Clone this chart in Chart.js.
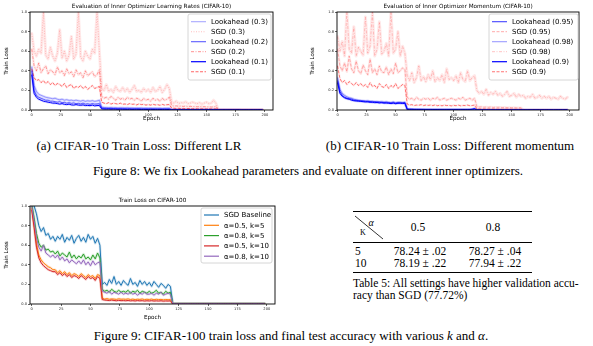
<!DOCTYPE html>
<html>
<head>
<meta charset="utf-8">
<script src="https://cdn.jsdelivr.net/npm/chart.js@4.4.1/dist/chart.umd.min.js"></script>
<style>
body { margin:0; width:593px; height:346px; background:#fff; position:relative; overflow:hidden; font-family:"Liberation Serif", serif; color:#000; }
canvas { position:absolute; }
.t { position:absolute; white-space:nowrap; line-height:1; }
.c { transform:translate(-50%,-50%); }
.l { transform:translateY(-50%); }
.rule { position:absolute; left:353px; width:179px; background:#000; }
</style>
</head>
<body>
<canvas id="c1" width="290" height="126" style="left:0;top:0"></canvas>
<canvas id="c2" width="298" height="126" style="left:295px;top:0"></canvas>
<canvas id="c3" width="290" height="128" style="left:0;top:195px"></canvas>

<div class="t c" style="left:139px;top:145px;font-size:13px">(a) CIFAR-10 Train Loss: Different LR</div>
<div class="t c" style="left:450px;top:145px;font-size:13px">(b) CIFAR-10 Train Loss: Different momentum</div>
<div class="t c" style="left:308px;top:170px;font-size:13px">Figure 8: We fix Lookahead parameters and evaluate on different inner optimizers.</div>

<div class="rule" style="top:211px;height:1.3px"></div>
<div class="rule" style="top:242px;height:0.8px"></div>
<div class="rule" style="top:272px;height:1.3px"></div>
<svg style="position:absolute;left:353px;top:214px" width="32" height="28"><line x1="2" y1="2" x2="30" y2="25" stroke="#000" stroke-width="0.8"/></svg>
<div class="t c" style="left:371px;top:223px;font-size:10px;font-style:italic">α</div>
<div class="t c" style="left:363px;top:233px;font-size:8px">K</div>
<div class="t c" style="left:418px;top:228px;font-size:11.5px">0.5</div>
<div class="t c" style="left:493px;top:228px;font-size:11.5px">0.8</div>
<div class="t l" style="left:355px;top:252px;font-size:11.5px">5</div>
<div class="t l" style="left:355px;top:264px;font-size:11.5px">10</div>
<div class="t c" style="left:420px;top:252px;font-size:11.5px">78.24 ± .02</div>
<div class="t c" style="left:495px;top:252px;font-size:11.5px">78.27 ± .04</div>
<div class="t c" style="left:420px;top:264px;font-size:11.5px">78.19 ± .22</div>
<div class="t c" style="left:495px;top:264px;font-size:11.5px">77.94 ± .22</div>
<div class="t l" style="left:353px;top:284px;font-size:11.5px">Table 5: All settings have higher validation accu-</div>
<div class="t l" style="left:353px;top:296px;font-size:11.5px">racy than SGD (77.72%)</div>

<div class="t c" style="left:291px;top:335px;font-size:13px">Figure 9: CIFAR-100 train loss and final test accuracy with various <i>k</i> and <i>α</i>.</div>

<script>
var epochs = [
0,2,4,6,8,10,12,14,16,18,
20,22,24,26,28,30,32,34,36,38,
40,42,44,46,48,50,52,54,56,58,
60,62,64,66,68,70,72,74,76,78,
80,82,84,86,88,90,92,94,96,98,
100,102,104,106,108,110,112,114,116,118,
120,122,124,126,128,130,132,134,136,138,
140,142,144,146,148,150,152,154,156,158,
160,162,164,166,168,170,172,174,176,178,
180,182,184,186,188,190,192,194,196,198];
var xTicks = [0,25,50,75,100,125,150,175,200];
var yTicks = [0,0.2,0.4,0.6,0.8,1.0];

// (a) different learning rates
var lrLabels = ['Lookahead (0.3)','SGD (0.3)','Lookahead (0.2)','SGD (0.2)','Lookahead (0.1)','SGD (0.1)'];
var lrLook03 = [
0.44,0.25,0.19,0.16,0.15,0.14,0.13,0.125,0.12,0.115,
0.12,0.11,0.105,0.11,0.10,0.105,0.098,0.10,0.095,0.10,
0.095,0.09,0.098,0.088,0.094,0.09,0.096,0.088,0.092,0.10,
0.03,0.026,0.025,0.024,0.025,0.022,0.024,0.021,0.023,0.022,
0.021,0.022,0.02,0.021,0.019,0.02,0.019,0.02,0.018,0.019,
0.018,0.019,0.017,0.018,0.017,0.018,0.016,0.017,0.017,0.018,
0.004,0.004,0.004,0.003,0.004,0.003,0.003,0.003,0.003,0.003,
0.003,0.003,0.003,0.003,0.003,0.003,0.003,0.003,0.003,0.003,
0.002,0.002,0.002,0.002,0.002,0.002,0.002,0.002,0.002,0.002,
0.002,0.002,0.002,0.002,0.002,0.002,0.002,0.002,0.002,0.002];
var lrLook02 = [
0.40,0.20,0.15,0.13,0.12,0.11,0.10,0.10,0.09,0.09,
0.085,0.08,0.085,0.075,0.078,0.07,0.075,0.068,0.072,0.065,
0.068,0.062,0.07,0.06,0.064,0.058,0.066,0.06,0.062,0.065,
0.02,0.017,0.016,0.015,0.016,0.014,0.015,0.013,0.014,0.013,
0.013,0.012,0.013,0.011,0.012,0.011,0.012,0.011,0.01,0.011,
0.01,0.011,0.01,0.01,0.009,0.01,0.009,0.01,0.009,0.01,
0.003,0.003,0.003,0.003,0.003,0.003,0.003,0.003,0.003,0.003,
0.002,0.002,0.002,0.002,0.002,0.002,0.002,0.002,0.002,0.002,
0.002,0.002,0.002,0.002,0.002,0.002,0.002,0.002,0.002,0.002,
0.001,0.001,0.001,0.001,0.001,0.001,0.001,0.001,0.001,0.001];
var lrLook01 = [
0.36,0.17,0.13,0.11,0.10,0.09,0.085,0.08,0.075,0.07,
0.07,0.065,0.06,0.065,0.058,0.055,0.06,0.052,0.05,0.055,
0.05,0.048,0.052,0.045,0.047,0.044,0.05,0.042,0.045,0.046,
0.012,0.010,0.009,0.010,0.008,0.009,0.008,0.007,0.008,0.007,
0.007,0.006,0.007,0.006,0.006,0.007,0.006,0.005,0.006,0.005,
0.005,0.006,0.005,0.005,0.004,0.005,0.005,0.004,0.005,0.005,
0.002,0.002,0.002,0.002,0.002,0.002,0.002,0.002,0.002,0.002,
0.002,0.002,0.002,0.002,0.002,0.002,0.002,0.002,0.002,0.002,
0.001,0.001,0.001,0.001,0.001,0.001,0.001,0.001,0.001,0.001,
0.001,0.001,0.001,0.001,0.001,0.001,0.001,0.001,0.001,0.001];
var lrSgd03 = [
0.78,0.60,0.55,0.62,0.58,1.0,0.56,0.52,0.64,0.55,
0.50,0.58,0.82,0.53,0.60,0.50,0.56,0.75,0.52,0.57,
1.0,0.54,0.50,0.60,0.55,0.52,0.62,0.58,1.0,0.60,
0.22,0.20,0.26,0.19,0.21,0.18,0.24,0.20,0.19,0.23,
0.19,0.22,0.18,0.21,0.25,0.19,0.20,0.18,0.22,0.19,
0.21,0.18,0.23,0.19,0.20,0.24,0.18,0.21,0.26,0.22,
0.08,0.07,0.09,0.065,0.075,0.07,0.085,0.065,0.07,0.08,
0.07,0.065,0.075,0.06,0.07,0.08,0.065,0.07,0.10,0.07,
0.004,0.003,0.003,0.003,0.003,0.003,0.003,0.003,0.003,0.003,
0.003,0.003,0.003,0.003,0.003,0.003,0.003,0.003,0.003,0.003];
var lrSgd02 = [
0.62,0.45,0.40,0.48,0.38,0.42,0.45,0.37,0.41,0.39,
0.36,0.44,0.38,0.40,0.35,0.42,0.37,0.39,0.34,0.41,
0.36,0.38,0.33,0.40,0.35,0.37,0.39,0.34,0.36,0.41,
0.14,0.12,0.13,0.11,0.14,0.12,0.10,0.13,0.11,0.12,
0.10,0.13,0.11,0.12,0.10,0.12,0.11,0.09,0.12,0.10,
0.11,0.09,0.12,0.10,0.11,0.09,0.12,0.10,0.11,0.13,
0.045,0.04,0.042,0.038,0.04,0.036,0.04,0.035,0.038,0.034,
0.036,0.033,0.035,0.032,0.034,0.031,0.033,0.03,0.032,0.034,
0.003,0.003,0.003,0.003,0.003,0.003,0.003,0.003,0.003,0.003,
0.003,0.003,0.003,0.003,0.003,0.003,0.003,0.003,0.003,0.003];
var lrSgd01 = [
0.42,0.33,0.30,0.31,0.28,0.30,0.27,0.29,0.26,0.28,
0.25,0.27,0.26,0.24,0.27,0.23,0.25,0.26,0.22,0.24,
0.23,0.25,0.22,0.24,0.21,0.23,0.25,0.22,0.23,0.24,
0.08,0.07,0.065,0.075,0.06,0.07,0.065,0.06,0.07,0.058,
0.062,0.055,0.065,0.058,0.06,0.052,0.062,0.055,0.058,0.05,
0.056,0.05,0.058,0.052,0.055,0.048,0.057,0.05,0.054,0.056,
0.02,0.018,0.016,0.017,0.015,0.016,0.014,0.015,0.014,0.013,
0.014,0.012,0.013,0.012,0.012,0.011,0.012,0.011,0.012,0.011,
0.002,0.002,0.002,0.002,0.002,0.002,0.002,0.002,0.002,0.002,
0.002,0.002,0.002,0.002,0.002,0.002,0.002,0.002,0.002,0.002];

// (b) different momentum
var momLabels = ['Lookahead (0.95)','SGD (0.95)','Lookahead (0.98)','SGD (0.98)','Lookahead (0.9)','SGD (0.9)'];
var momLook095 = [
0.30,0.19,0.15,0.13,0.12,0.115,0.11,0.10,0.098,0.095,
0.092,0.09,0.088,0.085,0.087,0.08,0.083,0.078,0.08,0.075,
0.077,0.072,0.075,0.07,0.073,0.068,0.074,0.07,0.072,0.074,
0.008,0.007,0.007,0.006,0.006,0.006,0.005,0.006,0.005,0.005,
0.005,0.005,0.004,0.005,0.004,0.004,0.005,0.004,0.004,0.004,
0.004,0.004,0.004,0.004,0.004,0.004,0.004,0.005,0.006,0.01,
0.001,0.001,0.001,0.001,0.001,0.001,0.001,0.001,0.001,0.001,
0.001,0.001,0.001,0.001,0.001,0.001,0.001,0.001,0.001,0.001,
0.001,0.001,0.001,0.001,0.001,0.001,0.001,0.001,0.001,0.001,
0.001,0.001,0.001,0.001,0.001,0.001,0.001,0.001,0.001,0.001];
var momLook098 = [
0.33,0.21,0.17,0.15,0.135,0.125,0.12,0.11,0.105,0.10,
0.098,0.095,0.092,0.094,0.088,0.09,0.085,0.088,0.082,0.086,
0.08,0.084,0.078,0.076,0.082,0.074,0.078,0.08,0.076,0.078,
0.01,0.009,0.008,0.008,0.007,0.007,0.007,0.006,0.006,0.006,
0.006,0.005,0.005,0.005,0.005,0.005,0.005,0.005,0.004,0.004,
0.004,0.004,0.004,0.004,0.004,0.004,0.005,0.006,0.008,0.012,
0.001,0.001,0.001,0.001,0.001,0.001,0.001,0.001,0.001,0.001,
0.001,0.001,0.001,0.001,0.001,0.001,0.001,0.001,0.001,0.001,
0.001,0.001,0.001,0.001,0.001,0.001,0.001,0.001,0.001,0.001,
0.001,0.001,0.001,0.001,0.001,0.001,0.001,0.001,0.001,0.001];
var momLook09 = [
0.28,0.17,0.14,0.125,0.115,0.11,0.10,0.095,0.092,0.09,
0.088,0.085,0.082,0.084,0.078,0.08,0.075,0.077,0.072,0.075,
0.07,0.073,0.068,0.066,0.071,0.064,0.068,0.07,0.066,0.068,
0.007,0.006,0.006,0.005,0.005,0.005,0.005,0.005,0.004,0.004,
0.004,0.004,0.004,0.004,0.004,0.004,0.004,0.004,0.004,0.004,
0.004,0.004,0.004,0.004,0.004,0.004,0.004,0.005,0.007,0.012,
0.001,0.001,0.001,0.001,0.001,0.001,0.001,0.001,0.001,0.001,
0.001,0.001,0.001,0.001,0.001,0.001,0.001,0.001,0.001,0.001,
0.001,0.001,0.001,0.001,0.001,0.001,0.001,0.001,0.001,0.001,
0.001,0.001,0.001,0.001,0.001,0.001,0.001,0.001,0.001,0.001];
var momSgd095 = [
0.62,0.45,0.40,0.48,0.39,0.55,0.42,0.38,0.50,0.40,
0.37,0.46,0.40,0.36,0.52,0.38,0.42,0.36,0.45,0.39,
0.38,0.44,0.36,0.42,0.37,0.48,0.38,0.40,0.43,0.41,
0.13,0.11,0.12,0.10,0.13,0.11,0.10,0.12,0.11,0.12,
0.10,0.12,0.11,0.13,0.10,0.11,0.12,0.10,0.11,0.12,
0.11,0.10,0.12,0.11,0.13,0.10,0.11,0.12,0.10,0.12,
0.035,0.03,0.032,0.028,0.03,0.027,0.031,0.026,0.029,0.027,
0.028,0.025,0.027,0.024,0.026,0.023,0.025,0.022,0.024,0.023,
0.003,0.003,0.003,0.003,0.003,0.003,0.003,0.003,0.003,0.003,
0.003,0.003,0.003,0.003,0.003,0.003,0.003,0.003,0.003,0.003];
var momSgd098 = [
0.75,0.60,0.70,0.55,1.0,0.62,0.58,0.85,0.55,0.64,
0.60,0.56,0.95,0.58,0.65,1.0,0.55,0.62,0.90,0.57,
0.60,0.68,0.55,1.0,0.58,0.62,0.80,0.55,0.65,0.58,
0.35,0.30,0.38,0.28,0.33,0.45,0.30,0.34,0.29,0.36,
0.31,0.40,0.29,0.33,0.30,0.36,0.28,0.42,0.31,0.33,
0.30,0.35,0.28,0.38,0.31,0.29,0.40,0.30,0.33,0.35,
0.20,0.17,0.19,0.16,0.21,0.15,0.18,0.16,0.19,0.15,
0.17,0.14,0.16,0.19,0.14,0.15,0.17,0.13,0.16,0.14,
0.15,0.12,0.14,0.13,0.16,0.12,0.13,0.15,0.12,0.14,
0.12,0.14,0.11,0.13,0.12,0.11,0.14,0.12,0.11,0.13];
var momSgd09 = [
0.45,0.32,0.28,0.30,0.26,0.29,0.27,0.25,0.28,0.25,
0.27,0.24,0.26,0.23,0.28,0.24,0.25,0.22,0.27,0.24,
0.23,0.26,0.22,0.25,0.23,0.27,0.22,0.24,0.26,0.25,
0.06,0.05,0.055,0.045,0.05,0.048,0.055,0.045,0.05,0.047,
0.05,0.045,0.052,0.044,0.048,0.043,0.05,0.045,0.047,0.042,
0.048,0.044,0.05,0.043,0.047,0.045,0.05,0.044,0.046,0.05,
0.012,0.011,0.01,0.011,0.009,0.01,0.009,0.01,0.009,0.009,
0.009,0.008,0.009,0.008,0.008,0.008,0.008,0.007,0.008,0.007,
0.002,0.002,0.002,0.002,0.002,0.002,0.002,0.002,0.002,0.002,
0.002,0.002,0.002,0.002,0.002,0.002,0.002,0.002,0.002,0.002];

// CIFAR-100
var c100Labels = ['SGD Baseline','α=0.5, k=5','α=0.8, k=5','α=0.5, k=10','α=0.8, k=10'];
var c100Sgd = [
1.05,1.0,0.92,0.80,0.74,0.78,0.70,0.72,0.66,0.69,
0.64,0.69,0.66,0.71,0.63,0.68,0.65,0.70,0.62,0.67,
0.70,0.64,0.68,0.63,0.71,0.66,0.69,0.62,0.67,0.60,
0.20,0.22,0.19,0.25,0.21,0.28,0.20,0.23,0.19,0.24,
0.21,0.19,0.26,0.20,0.22,0.18,0.24,0.20,0.23,0.19,
0.22,0.18,0.23,0.20,0.17,0.21,0.19,0.16,0.20,0.18,
0.005,0.005,0.005,0.005,0.005,0.005,0.005,0.005,0.005,0.005,
0.005,0.005,0.005,0.005,0.005,0.005,0.005,0.005,0.005,0.005,
0.004,0.004,0.004,0.004,0.004,0.004,0.004,0.004,0.004,0.004,
0.004,0.004,0.004,0.004,0.004,0.004,0.004,0.004,0.004,0.004];
var c100A05K5 = [
0.98,0.80,0.62,0.50,0.45,0.42,0.40,0.38,0.37,0.35,
0.35,0.32,0.34,0.31,0.33,0.30,0.32,0.29,0.31,0.30,
0.28,0.31,0.29,0.27,0.30,0.28,0.29,0.26,0.30,0.29,
0.06,0.05,0.055,0.048,0.052,0.05,0.047,0.053,0.049,0.05,
0.048,0.052,0.046,0.05,0.045,0.049,0.047,0.051,0.045,0.048,
0.046,0.05,0.044,0.048,0.045,0.047,0.043,0.046,0.044,0.045,
0.003,0.003,0.003,0.003,0.003,0.003,0.003,0.003,0.003,0.003,
0.003,0.003,0.003,0.003,0.003,0.003,0.003,0.003,0.003,0.003,
0.003,0.003,0.003,0.003,0.003,0.003,0.003,0.003,0.003,0.003,
0.003,0.003,0.003,0.003,0.003,0.003,0.003,0.003,0.003,0.003];
var c100A08K5 = [
1.02,0.88,0.72,0.62,0.58,0.60,0.55,0.56,0.53,0.54,
0.51,0.54,0.49,0.52,0.50,0.48,0.53,0.47,0.50,0.46,
0.49,0.47,0.51,0.46,0.48,0.45,0.50,0.46,0.52,0.47,
0.15,0.13,0.14,0.12,0.15,0.13,0.12,0.14,0.12,0.13,
0.12,0.14,0.11,0.13,0.12,0.14,0.11,0.13,0.12,0.11,
0.13,0.11,0.12,0.14,0.11,0.12,0.10,0.13,0.11,0.12,
0.004,0.004,0.004,0.004,0.004,0.004,0.004,0.004,0.004,0.004,
0.004,0.004,0.004,0.004,0.004,0.004,0.004,0.004,0.004,0.004,
0.004,0.004,0.004,0.004,0.004,0.004,0.004,0.004,0.004,0.004,
0.004,0.004,0.004,0.004,0.004,0.004,0.004,0.004,0.004,0.004];
var c100A05K10 = [
0.96,0.78,0.58,0.47,0.42,0.39,0.37,0.35,0.34,0.33,
0.33,0.30,0.32,0.29,0.31,0.28,0.30,0.27,0.29,0.28,
0.26,0.29,0.27,0.25,0.28,0.26,0.27,0.24,0.28,0.26,
0.045,0.04,0.038,0.035,0.04,0.036,0.033,0.037,0.034,0.035,
0.033,0.036,0.032,0.034,0.031,0.035,0.032,0.034,0.03,0.033,
0.031,0.034,0.03,0.032,0.03,0.033,0.029,0.031,0.03,0.032,
0.002,0.002,0.002,0.002,0.002,0.002,0.002,0.002,0.002,0.002,
0.002,0.002,0.002,0.002,0.002,0.002,0.002,0.002,0.002,0.002,
0.002,0.002,0.002,0.002,0.002,0.002,0.002,0.002,0.002,0.002,
0.002,0.002,0.002,0.002,0.002,0.002,0.002,0.002,0.002,0.002];
var c100A08K10 = [
1.0,0.85,0.68,0.58,0.54,0.60,0.52,0.50,0.48,0.50,
0.47,0.50,0.45,0.48,0.44,0.46,0.42,0.45,0.43,0.41,
0.44,0.41,0.45,0.40,0.43,0.39,0.44,0.40,0.42,0.43,
0.13,0.12,0.11,0.13,0.10,0.12,0.11,0.10,0.12,0.10,
0.11,0.10,0.12,0.10,0.11,0.09,0.11,0.10,0.12,0.10,
0.10,0.11,0.09,0.11,0.10,0.12,0.09,0.10,0.11,0.10,
0.004,0.004,0.004,0.004,0.004,0.004,0.004,0.004,0.004,0.004,
0.004,0.004,0.004,0.004,0.004,0.004,0.004,0.004,0.004,0.004,
0.004,0.004,0.004,0.004,0.004,0.004,0.004,0.004,0.004,0.004,
0.004,0.004,0.004,0.004,0.004,0.004,0.004,0.004,0.004,0.004];

var SANS = '"DejaVu Sans", sans-serif';

function line(label, values, color, width, dash, order) {
	return { label: label, data: values, borderColor: color, borderWidth: width, borderDash: dash || [],
		pointRadius: 0, fill: false, tension: 0, clip: 0, order: order };
}
function band(values, color, width) {
	return { label: '', data: values, borderColor: color, borderWidth: width, pointRadius: 0, fill: false,
		tension: 0, clip: 0, order: 9, isBand: true, borderJoinStyle: 'round', borderCapStyle: 'round' };
}

var frame = {
	id: 'frame',
	afterDatasetsDraw: function(chart) {
		var a = chart.chartArea, ctx = chart.ctx;
		ctx.save();
		ctx.strokeStyle = '#000';
		ctx.lineWidth = 0.9;
		ctx.strokeRect(a.left, a.top, a.right - a.left, a.bottom - a.top);
		ctx.restore();
	},
	afterDraw: function(chart, args, o) {
		var a = chart.chartArea, ctx = chart.ctx;
		ctx.save();
		ctx.fillStyle = '#000';
		ctx.font = o.titleSize + 'px ' + SANS;
		ctx.textAlign = 'center';
		ctx.textBaseline = 'middle';
		ctx.fillText(o.title, (a.left + a.right) / 2, o.titleY);

		// legend inside the axes, upper right
		var items = chart.data.datasets.filter(function(d) { return !d.isBand; });
		var bx = a.right - o.boxRight - o.boxW, by = a.top + 2;
		ctx.fillStyle = 'rgba(255,255,255,0.85)';
		ctx.strokeStyle = '#cccccc';
		ctx.lineWidth = 0.8;
		ctx.beginPath();
		ctx.roundRect(bx, by, o.boxW, o.boxH, 2);
		ctx.fill();
		ctx.stroke();
		ctx.font = '7px ' + SANS;
		ctx.textAlign = 'left';
		items.forEach(function(d, i) {
			var ly = by + o.firstRow + i * o.rowH;
			ctx.strokeStyle = d.borderColor;
			ctx.lineWidth = d.borderWidth * 1.2;
			ctx.setLineDash(d.borderDash);
			ctx.beginPath();
			ctx.moveTo(bx + 3, ly);
			ctx.lineTo(bx + 18, ly);
			ctx.stroke();
			ctx.setLineDash([]);
			ctx.fillStyle = '#000';
			ctx.fillText(d.label, bx + 23, ly + 0.5);
		});
		ctx.restore();
	}
};

function makeChart(id, datasets, box) {
	var tickFont = { family: SANS, size: 3.6 };
	var titleFont = { family: SANS, size: 5.6 };
	var grid = { display: true, drawOnChartArea: false, drawTicks: true, tickLength: 2, color: '#000', lineWidth: 0.6 };
	return new Chart(document.getElementById(id), {
		type: 'line',
		data: { labels: epochs, datasets: datasets },
		options: {
			responsive: false,
			animation: false,
			devicePixelRatio: 1,
			layout: { padding: { top: box.top, right: box.right, left: 0, bottom: 0 } },
			plugins: {
				legend: { display: false },
				tooltip: { enabled: false },
				frame: box.frame
			},
			scales: {
				x: {
					type: 'linear', min: box.xMin, max: box.xMax,
					afterBuildTicks: function(s) { s.ticks = xTicks.map(function(v) { return { value: v }; }); },
					afterFit: function(s) { s.height = box.xHeight; },
					ticks: { font: tickFont, color: '#222', padding: 1, maxRotation: 0, autoSkip: false },
					grid: grid, border: { display: false },
					title: { display: true, text: 'Epoch', font: titleFont, color: '#000', padding: { top: 0, bottom: box.xTitlePad } }
				},
				y: {
					min: 0, max: 1,
					afterBuildTicks: function(s) { s.ticks = yTicks.map(function(v) { return { value: v }; }); },
					afterFit: function(s) { s.width = box.yWidth; },
					ticks: { font: tickFont, color: '#222', padding: 1, callback: function(v) { return v.toFixed(1); } },
					grid: grid, border: { display: false },
					title: { display: true, text: 'Train Loss', font: titleFont, color: '#000', padding: { top: box.yTitlePad, bottom: 0 } }
				}
			}
		},
		plugins: [frame]
	});
}

var RED_BAND = 'rgba(255,0,0,0.09)';
var BLUE_BAND = 'rgba(0,0,255,0.15)';

makeChart('c1', [
	line(lrLabels[0], lrLook03, 'rgba(0,0,255,0.35)', 0.9, [], 1),
	line(lrLabels[1], lrSgd03, 'rgba(255,0,0,0.25)', 0.9, [1, 1.5], 2),
	line(lrLabels[2], lrLook02, 'rgba(0,0,255,0.65)', 0.9, [], 1),
	line(lrLabels[3], lrSgd02, 'rgba(255,0,0,0.45)', 0.8, [3, 1.5, 1, 1.5], 2),
	line(lrLabels[4], lrLook01, 'rgba(0,0,255,1)', 1, [], 1),
	line(lrLabels[5], lrSgd01, 'rgba(255,0,0,0.6)', 0.9, [3, 1.5], 2),
	band(lrSgd03, RED_BAND, 3), band(lrSgd02, RED_BAND, 2.5), band(lrSgd01, RED_BAND, 2),
	band(lrLook03, BLUE_BAND, 2.5), band(lrLook02, BLUE_BAND, 2.5), band(lrLook01, BLUE_BAND, 2.5)
], { top: 12, right: 17, xHeight: 16, yWidth: 30, xMin: -1.5, xMax: 207, xTitlePad: 3.7, yTitlePad: 3.4,
	frame: { title: 'Evaluation of Inner Optimizer Learning Rates (CIFAR-10)', titleSize: 5.7, titleY: 6.7,
		boxW: 83, boxH: 66, boxRight: 2, firstRow: 7.7, rowH: 10 } });

makeChart('c2', [
	line(momLabels[0], momLook095, 'rgba(0,0,255,0.75)', 0.9, [], 1),
	line(momLabels[1], momSgd095, 'rgba(255,0,0,0.35)', 0.8, [3, 1.5], 2),
	line(momLabels[2], momLook098, 'rgba(0,0,255,0.4)', 0.9, [], 1),
	line(momLabels[3], momSgd098, 'rgba(255,0,0,0.25)', 0.8, [3, 1.5, 1, 1.5], 2),
	line(momLabels[4], momLook09, 'rgba(0,0,255,1)', 1, [], 1),
	line(momLabels[5], momSgd09, 'rgba(255,0,0,0.55)', 0.9, [3, 1.5], 2),
	band(momSgd098, RED_BAND, 3), band(momSgd095, RED_BAND, 2.5), band(momSgd09, RED_BAND, 2),
	band(momLook098, BLUE_BAND, 2.5), band(momLook095, BLUE_BAND, 2.5), band(momLook09, BLUE_BAND, 2.5)
], { top: 12, right: 14, xHeight: 16, yWidth: 42, xMin: -0.5, xMax: 208, xTitlePad: 3.7, yTitlePad: 13.7,
	frame: { title: 'Evaluation of Inner Optimizer Momentum (CIFAR-10)', titleSize: 5.7, titleY: 6.7,
		boxW: 89, boxH: 66, boxRight: 1, firstRow: 7.7, rowH: 10 } });

var TAB = ['#1f77b4', '#ff7f0e', '#2ca02c', '#d62728', '#9467bd'];
var TAB_BAND = ['rgba(31,119,180,0.2)', 'rgba(255,127,14,0.2)', 'rgba(44,160,44,0.2)', 'rgba(214,39,40,0.2)', 'rgba(148,103,189,0.2)'];
makeChart('c3', [
	line(c100Labels[0], c100Sgd, TAB[0], 1, [], 5),
	line(c100Labels[1], c100A05K5, TAB[1], 1, [], 4),
	line(c100Labels[2], c100A08K5, TAB[2], 1, [], 3),
	line(c100Labels[3], c100A05K10, TAB[3], 1, [], 2),
	line(c100Labels[4], c100A08K10, TAB[4], 1, [], 1),
	band(c100Sgd, TAB_BAND[0], 2.5), band(c100A05K5, TAB_BAND[1], 2.5), band(c100A08K5, TAB_BAND[2], 2.5),
	band(c100A05K10, TAB_BAND[3], 2.5), band(c100A08K10, TAB_BAND[4], 2.5)
], { top: 11, right: 15, xHeight: 19, yWidth: 30, xMin: -1.5, xMax: 207, xTitlePad: 1.7, yTitlePad: 3.4,
	frame: { title: 'Train Loss on CIFAR-100', titleSize: 5.7, titleY: 6,
		boxW: 71, boxH: 55, boxRight: 3, firstRow: 7, rowH: 10.3 } });
</script>
</body>
</html>
